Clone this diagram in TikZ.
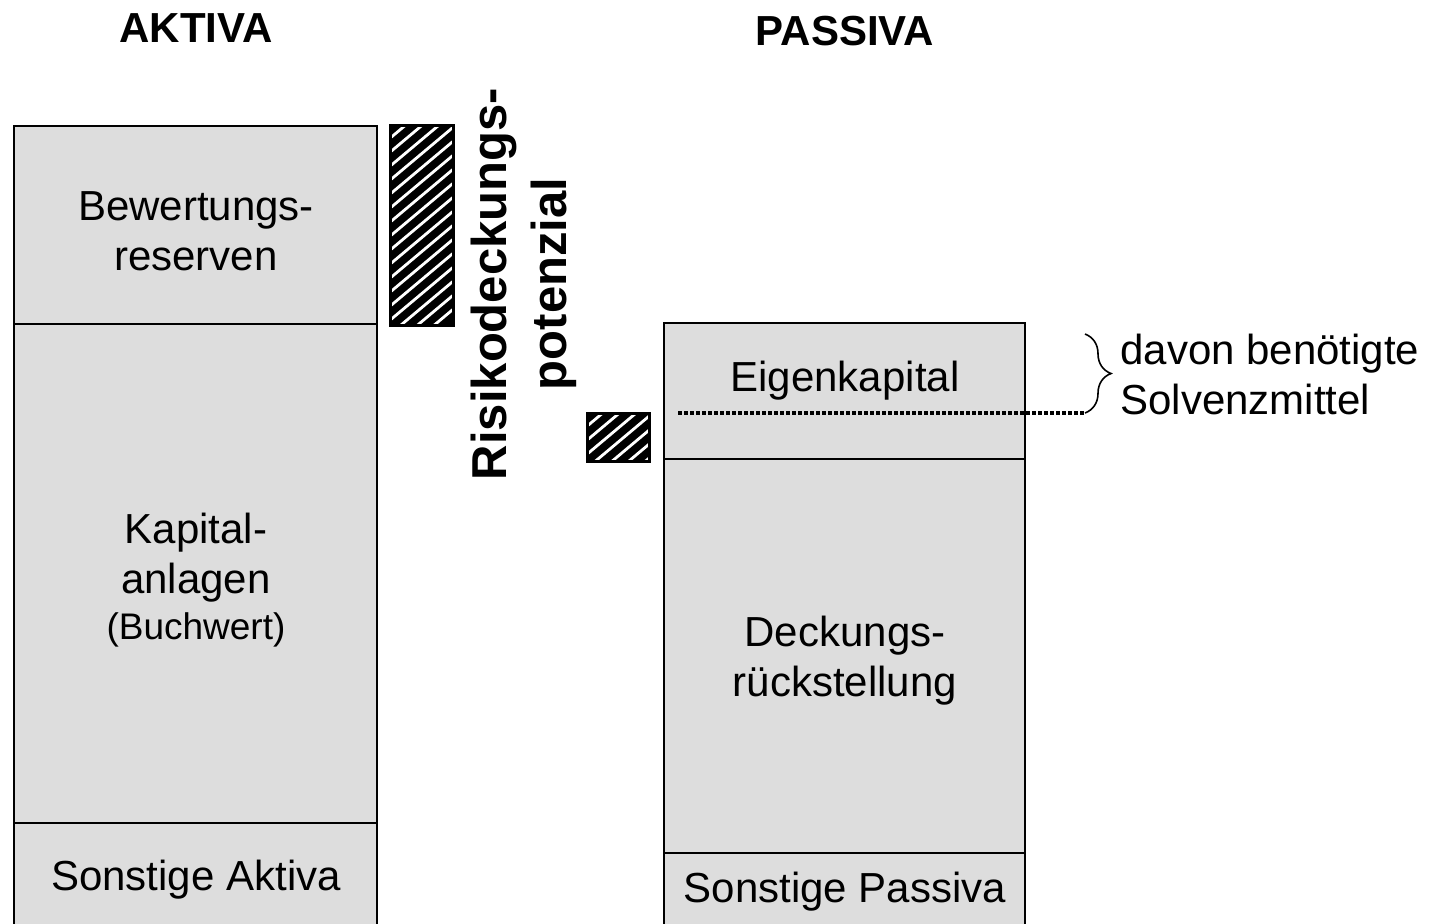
\documentclass[tikz,border=0pt]{standalone}
\usepackage{fontspec}
\setmainfont{Liberation Sans}
\usetikzlibrary{decorations.pathreplacing}
\definecolor{boxgray}{HTML}{DDDDDD}
\begin{document}
\begin{tikzpicture}[x=0.5pt,y=-0.5pt,
  section/.style={draw=black,line width=1pt,fill=boxgray},
  label/.style={align=center,font=\fontsize{21}{25}\selectfont,inner sep=0pt},
  heading/.style={font=\fontsize{21}{25}\selectfont\bfseries,inner sep=0pt},
  hatchframe/.style={draw=black,line width=1.5pt}]
\useasboundingbox (0,0) rectangle (1433,923);

% headings
\node[heading] (aktiva) at (196,28) {AKTIVA};
\node[heading] (passiva) at (845,31) {PASSIVA};

% asset side
\draw[section] (14,126) rectangle (377,324);
\draw[section] (14,324) rectangle (377,823);
\draw[section] (14,823) rectangle (377,930);
\node[label] (bewertung) at (196,231) {Bewertungs-\\reserven};
\node[label] (kapital) at (196,558) {Kapital-\\anlagen};
\node[label,font=\fontsize{18.5}{22}\selectfont] (buchwert) at (196,630) {(Buchwert)};
\node[label] (sonstakt) at (196,880) {Sonstige Aktiva};

% liability side
\draw[section] (664,323) rectangle (1025,459);
\draw[section] (664,459) rectangle (1025,853);
\draw[section] (664,853) rectangle (1025,930);
\node[label] (eigen) at (845,381) {Eigenkapital};
\node[label] (deckung) at (845,661) {Deckungs-\\rückstellung};
\node[label] (sonstpas) at (845,892) {Sonstige Passiva};

% hatched blocks: black ground with white diagonal stripes rising to the right
\foreach \xa/\ya/\xb/\yb in {390/125/453/325, 587/413/649/461}{
  \begin{scope}
    \clip (\xa,\ya) rectangle (\xb,\yb);
    \fill[black] (\xa,\ya) rectangle (\xb,\yb);
    \foreach \k in {-40,-26,...,260}{
      \draw[white,line width=1.4pt] (\xa-20,\ya+\k) -- ++(-40:160);
    }
  \end{scope}
  \draw[hatchframe] (\xa,\ya) rectangle (\xb,\yb);
}

% vertical caption
\node[rotate=90,align=center,inner sep=0pt,
      font=\fontsize{24.5}{30}\selectfont\bfseries] (rdp) at (524,284)
      {Risikodeckungs-\\potenzial};

% required solvency margin
\coordinate (dotstart) at (678,413);
\coordinate (bracebot) at (1085,413);
\coordinate (bracetop) at (1085,334);
\draw[line width=1.6pt,dash pattern=on 2pt off 1pt] (dotstart) -- (bracebot);
\draw[line width=0.8pt,decorate,decoration={brace,amplitude=13}] (bracetop) -- (bracebot);
\node[anchor=west,align=left,font=\fontsize{21}{25}\selectfont,inner sep=0pt] (solv) at (1120,374)
  {davon benötigte\\Solvenzmittel};
\end{tikzpicture}
\end{document}
